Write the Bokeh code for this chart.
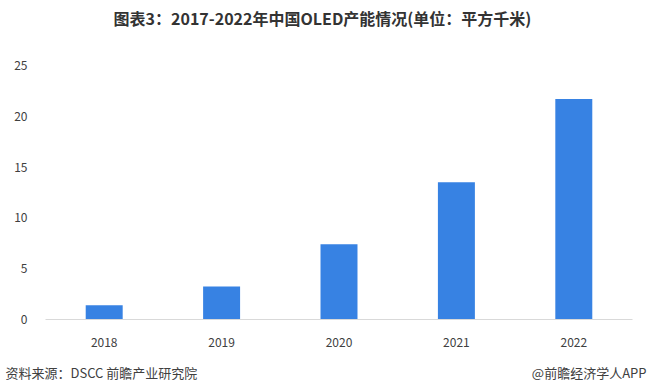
from bokeh.plotting import figure
from bokeh.layouts import column
from bokeh.models import Range1d, FactorRange, ColumnDataSource
from bokeh.core.properties import value
from bokeh.embed import file_html
from bokeh.resources import INLINE

years = ["2018", "2019", "2020", "2021", "2022"]
capacity = [1.4, 3.25, 7.4, 13.5, 21.7]
y_ticks = [0, 5, 10, 15, 20, 25]

title_text = "图表3：2017-2022年中国OLED产能情况(单位：平方千米)"
source_text = "资料来源：DSCC 前瞻产业研究院"
brand_text = "@前瞻经济学人APP"

FONT = "Noto Sans CJK SC"
W = 653


def text_strip(height):
    f = figure(width=W, height=height, x_range=Range1d(0, W), y_range=Range1d(height, 0),
               output_backend="svg", toolbar_location=None, x_axis_type=None, y_axis_type=None,
               min_border=0, frame_align=False)
    f.outline_line_color = None
    f.grid.grid_line_color = None
    return f


# header
head = text_strip(45)
head.text(x=[322], y=[17], text=[title_text], text_align="center", text_baseline="middle",
          text_font=value(FONT), text_font_style="bold", text_font_size="16px",
          text_color="#333333")

# main chart
p = figure(width=W, height=310, x_range=FactorRange(*years, range_padding=0),
           y_range=Range1d(0, 25), output_backend="svg", toolbar_location=None,
           min_border_left=45, min_border_right=21, min_border_top=20, min_border_bottom=36,
           frame_align=False)
p.outline_line_color = None
p.grid.grid_line_color = None

src = ColumnDataSource(dict(x=years, top=capacity))
p.vbar(x="x", top="top", width=0.315, source=src, fill_color="#3782E3", line_color=None)

p.yaxis.ticker = y_ticks
p.yaxis.axis_line_color = None
p.yaxis.major_tick_line_color = None
p.yaxis.minor_tick_line_color = None
p.yaxis.major_label_standoff = 12
p.xaxis.axis_line_color = "#d9d9d9"
p.xaxis.major_tick_line_color = None
p.xaxis.minor_tick_line_color = None
p.xaxis.major_label_standoff = 12
for ax in (p.xaxis, p.yaxis):
    ax.major_label_text_font = FONT
    ax.major_label_text_font_size = "12px"
    ax.major_label_text_color = "#404040"

# footer
foot = text_strip(37)
foot.text(x=[5], y=[17], text=[source_text], text_align="left", text_baseline="middle",
          text_font=value(FONT), text_font_size="13px", text_color="#404040")
foot.text(x=[646], y=[17], text=[brand_text], text_align="right", text_baseline="middle",
          text_font=value(FONT), text_font_size="13px", text_color="#404040")

layout = column(head, p, foot, spacing=0)
open("out.html", "w").write(file_html(layout, INLINE))
